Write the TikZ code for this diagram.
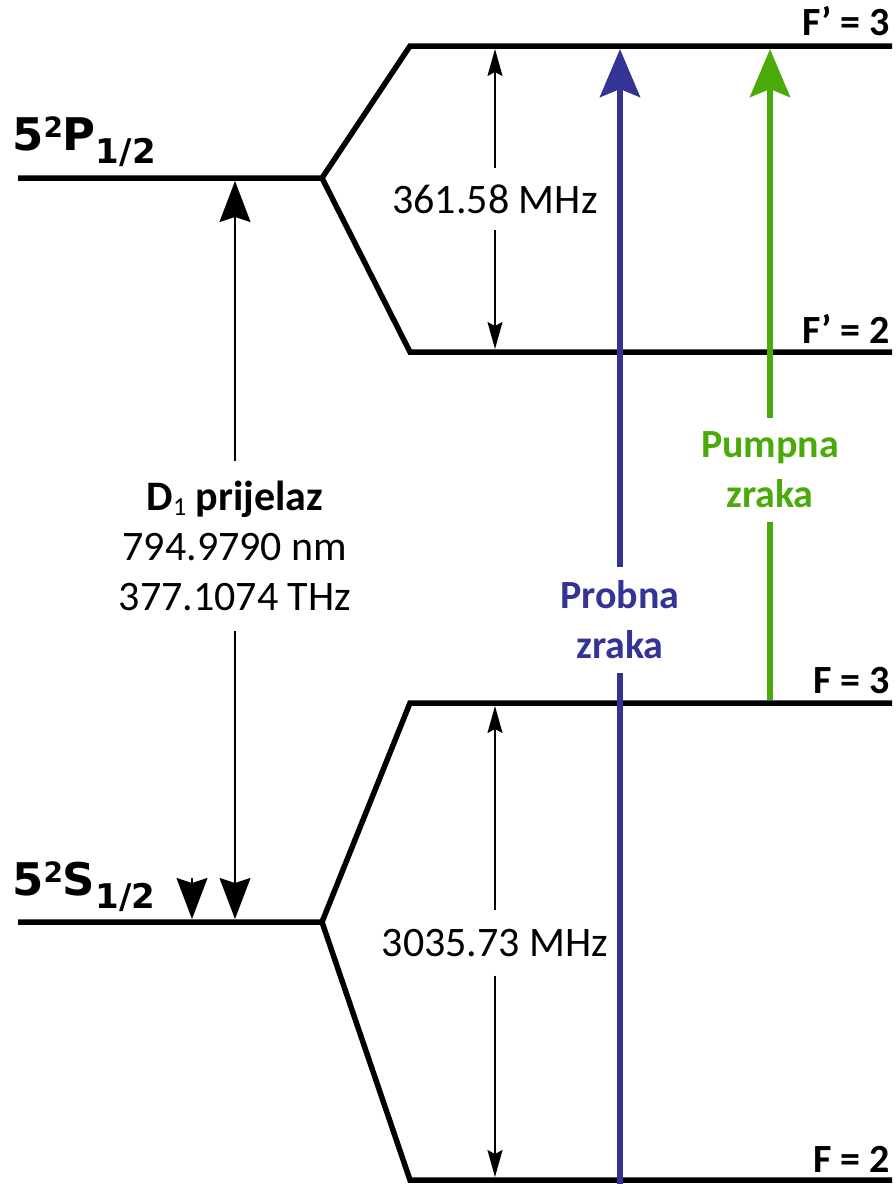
\documentclass[tikz,border=0pt]{standalone}
\usepackage{fontspec}
\setmainfont{Carlito}
\newfontfamily\verdfont{DejaVu Sans}
\usepackage{tikz}
\usetikzlibrary{arrows.meta}
\definecolor{probecol}{RGB}{52,52,150}
\definecolor{pumpcol}{RGB}{74,170,10}

\begin{document}
\begin{tikzpicture}[x=1pt,y=-1pt,
		level/.style={line width=5.5pt,line join=miter},
		thin/.style={line width=1.6pt,-{Stealth[length=41pt,width=31pt,inset=5pt]}},
		split/.style={line width=1.6pt,-{Stealth[length=27pt,width=15pt,inset=4pt]}},
		beam/.style={line width=6pt,-{Stealth[length=48pt,width=40pt,inset=8pt]}},
		flabel/.style={font=\bfseries\fontsize{40}{40}\selectfont,anchor=base east,inner sep=0pt},
		term/.style={font=\verdfont\bfseries\fontsize{45}{45}\selectfont,anchor=base west,inner sep=0pt},
		value/.style={font=\fontsize{42}{50}\selectfont,align=center,inner sep=0pt},
		beamlabel/.style={font=\bfseries\fontsize{40}{50}\selectfont,align=center,inner sep=0pt}]
	\useasboundingbox (0,0) rectangle (896,1184);
	\coordinate (Pl) at (18,178);
	\coordinate (Pk) at (322,178);
	\coordinate (Fp3l) at (410,46);
	\coordinate (Fp3r) at (892,46);
	\coordinate (Fp2l) at (410,352);
	\coordinate (Fp2r) at (892,352);
	\coordinate (Sl) at (18,922);
	\coordinate (Sk) at (322,922);
	\coordinate (F3l) at (410,703);
	\coordinate (F3r) at (892,703);
	\coordinate (F2l) at (410,1180);
	\coordinate (F2r) at (892,1180);
	\draw[level] (Pl) -- (Pk) -- (Fp3l) -- (Fp3r);
	\draw[level] (Pk) -- (Fp2l) -- (Fp2r);
	\draw[level] (Sl) -- (Sk) -- (F3l) -- (F3r);
	\draw[level] (Sk) -- (F2l) -- (F2r);
	\node[term] (termP) at (12,150) {5\raisebox{13pt}{\fontsize{28}{28}\selectfont 2}P\raisebox{-13pt}{\fontsize{34}{34}\selectfont 1/2}};
	\node[term] (termS) at (12,895) {5\raisebox{13pt}{\fontsize{28}{28}\selectfont 2}S\raisebox{-13pt}{\fontsize{34}{34}\selectfont 1/2}};
	\node[flabel] (labFp3) at (890,35) {F’ = 3};
	\node[flabel] (labFp2) at (890,343) {F’ = 2};
	\node[flabel] (labF3) at (890,693) {F = 3};
	\node[flabel] (labF2) at (890,1172) {F = 2};
	\coordinate (dtop) at (235,181);
	\coordinate (dbot) at (235,919);
	\coordinate (xtop) at (192,878);
	\coordinate (xbot) at (192,919);
	\node[value,minimum height=170pt] (dline) at (235,546) {\textbf{D\raisebox{-5pt}{\fontsize{26}{26}\mdseries\selectfont 1} prijelaz}\\794.9790 nm\\377.1074 THz};
	\draw[thin] (dline.north) -- (dtop);
	\draw[thin] (dline.south) -- (dbot);
	\draw[thin] (xtop) -- (xbot);
	\coordinate (htop) at (495,49);
	\coordinate (hbot) at (495,349);
	\node[value,minimum height=62pt] (hfs) at (495,199) {361.58 MHz};
	\draw[split] (hfs.north) -- (htop);
	\draw[split] (hfs.south) -- (hbot);
	\coordinate (gtop) at (495,706);
	\coordinate (gbot) at (495,1177);
	\node[value,minimum height=65pt] (gfs) at (495,943) {3035.73 MHz};
	\draw[split] (gfs.north) -- (gtop);
	\draw[split] (gfs.south) -- (gbot);
	\coordinate (probe0) at (620,1184);
	\coordinate (probe1) at (620,49);
	\node[beamlabel,text=probecol,minimum height=105pt] (probe) at (620,620) {Probna\\zraka};
	\draw[beam,probecol,-] (probe0) -- (probe.south);
	\draw[beam,probecol] (probe.north) -- (probe1);
	\coordinate (pump0) at (770,700);
	\coordinate (pump1) at (770,49);
	\node[beamlabel,text=pumpcol,minimum height=104pt] (pump) at (770,470) {Pumpna\\zraka};
	\draw[beam,pumpcol,-] (pump0) -- (pump.south);
	\draw[beam,pumpcol] (pump.north) -- (pump1);
\end{tikzpicture}
\end{document}
